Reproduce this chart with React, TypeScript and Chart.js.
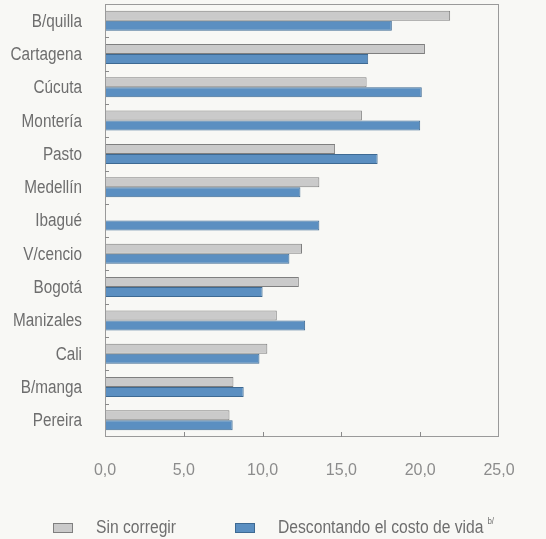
import React, { useEffect, useRef } from "react";
import { Chart, registerables } from "chart.js";

Chart.register(...registerables);

const cities = [
  "B/quilla", "Cartagena", "Cúcuta", "Montería", "Pasto", "Medellín", "Ibagué",
  "V/cencio", "Bogotá", "Manizales", "Cali", "B/manga", "Pereira",
];
const sinCorregir: (number | null)[] = [21.9, 20.3, 16.6, 16.3, 14.6, 13.6, null, 12.5, 12.3, 10.9, 10.3, 8.15, 7.9];
const descontando: number[] = [18.2, 16.7, 20.1, 20.0, 17.3, 12.4, 13.6, 11.7, 10.0, 12.7, 9.8, 8.8, 8.1];
const seriesLabels = ["Sin corregir", "Descontando el costo de vida"];
const legendSuperscript = ["", "b/"];
const xTicks = [0, 5, 10, 15, 20, 25];

const FONT = "'Liberation Sans', Arial, sans-serif";
const TEXT = "#6e6e6e";
const XTEXT = "#8c8c8c";
const FRAME = "#9a9a9a";

function condensedText(ctx: any, text: string, x: number, y: number, scale: number, align: string) {
  ctx.save();
  ctx.translate(x, y);
  ctx.scale(scale, 1);
  ctx.textAlign = align;
  ctx.fillText(text, 0, 0);
  ctx.restore();
}

const framePlugin = {
  id: "frameTicks",
  afterDatasetsDraw(chart: any) {
    const { ctx, chartArea } = chart;
    const y = chart.scales.y;
    const x = chart.scales.x;
    ctx.save();
    ctx.strokeStyle = FRAME;
    ctx.lineWidth = 1;
    ctx.strokeRect(
      Math.round(chartArea.left) + 0.5,
      Math.round(chartArea.top) + 0.5,
      Math.round(chartArea.right - chartArea.left) - 1,
      Math.round(chartArea.bottom - chartArea.top) - 1
    );
    ctx.strokeStyle = "#8a8a8a";
    const labels = chart.data.labels;
    const n = labels.length;
    for (let i = 0; i < n - 1; i++) {
      const py = Math.round((y.getPixelForValue(i) + y.getPixelForValue(i + 1)) / 2) + 0.5;
      ctx.beginPath();
      ctx.moveTo(chartArea.left, py);
      ctx.lineTo(chartArea.left + 4, py);
      ctx.stroke();
    }
    for (let i = 1; i < xTicks.length - 1; i++) {
      const px = Math.round(x.getPixelForValue(xTicks[i])) + 0.5;
      ctx.beginPath();
      ctx.moveTo(px, chartArea.bottom);
      ctx.lineTo(px, chartArea.bottom - 5);
      ctx.stroke();
    }
    // category labels
    ctx.font = `18px ${FONT}`;
    ctx.textBaseline = "middle";
    ctx.fillStyle = TEXT;
    for (let i = 0; i < n; i++) {
      condensedText(ctx, labels[i], chartArea.left - 23, y.getPixelForValue(i) + 1, 0.85, "right");
    }
    // value labels
    ctx.font = `16px ${FONT}`;
    ctx.fillStyle = XTEXT;
    for (const v of xTicks) {
      const txt = v.toFixed(1).replace(".", ",");
      condensedText(ctx, txt, x.getPixelForValue(v), chartArea.bottom + 34, 1.0, "center");
    }
    ctx.restore();
  },
};

const legendPlugin = {
  id: "customLegend",
  afterDraw(chart: any) {
    const { ctx } = chart;
    const positions = [53, 235];
    const cy = 528;
    ctx.save();
    chart.data.datasets.forEach((ds: any, i: number) => {
      const bx = positions[i];
      ctx.fillStyle = ds.backgroundColor;
      ctx.fillRect(bx, cy - 5, 20, 10);
      ctx.strokeStyle = ds.borderColor;
      ctx.lineWidth = 1;
      ctx.strokeRect(bx + 0.5, cy - 4.5, 19, 9);
      ctx.fillStyle = TEXT;
      ctx.font = `18px ${FONT}`;
      ctx.textBaseline = "middle";
      const tx = bx + 43;
      condensedText(ctx, ds.label, tx, cy, 0.87, "left");
      const sup = legendSuperscript[i];
      if (sup) {
        const w = ctx.measureText(ds.label).width * 0.87;
        ctx.font = `9px ${FONT}`;
        condensedText(ctx, sup, tx + w + 4, cy - 6, 0.88, "left");
      }
    });
    ctx.restore();
  },
};

export default function App() {
  const ref = useRef<HTMLCanvasElement | null>(null);
  useEffect(() => {
    document.body.style.margin = "0";
    document.body.style.background = "#f8f8f5";
    const chart = new Chart(ref.current as HTMLCanvasElement, {
      type: "bar",
      data: {
        labels: cities,
        datasets: [
          {
            label: seriesLabels[0],
            data: sinCorregir,
            backgroundColor: "#cacaca",
            borderColor: "#7f7f7f",
            borderWidth: 1,
            categoryPercentage: 0.6,
            barPercentage: 1,
          },
          {
            label: seriesLabels[1],
            data: descontando,
            backgroundColor: "#5b8fc1",
            borderColor: "#3e6a93",
            borderWidth: 1,
            categoryPercentage: 0.6,
            barPercentage: 1,
          },
        ],
      },
      options: {
        indexAxis: "y",
        animation: false,
        responsive: false,
        maintainAspectRatio: false,
        layout: { padding: { left: 0, right: 47, top: 4, bottom: 0 } },
        plugins: {
          legend: { display: false },
          tooltip: { enabled: false },
        },
        scales: {
          x: {
            min: 0,
            max: 25,
            afterBuildTicks(scale: any) {
              scale.ticks = xTicks.map((v) => ({ value: v }));
            },
            afterFit(scale: any) {
              scale.height = 102;
            },
            grid: { display: false, drawTicks: false },
            border: { display: false },
            ticks: { display: false },
          },
          y: {
            afterFit(scale: any) {
              scale.width = 105;
            },
            grid: { display: false, drawTicks: false },
            border: { display: false },
            ticks: { display: false },
          },
        },
      },
      plugins: [framePlugin, legendPlugin],
    } as any);
    return () => chart.destroy();
  }, []);
  return (
    <div style={{ width: 546, height: 539 }}>
      <canvas ref={ref} width={546} height={539} style={{ display: "block" }} />
    </div>
  );
}
